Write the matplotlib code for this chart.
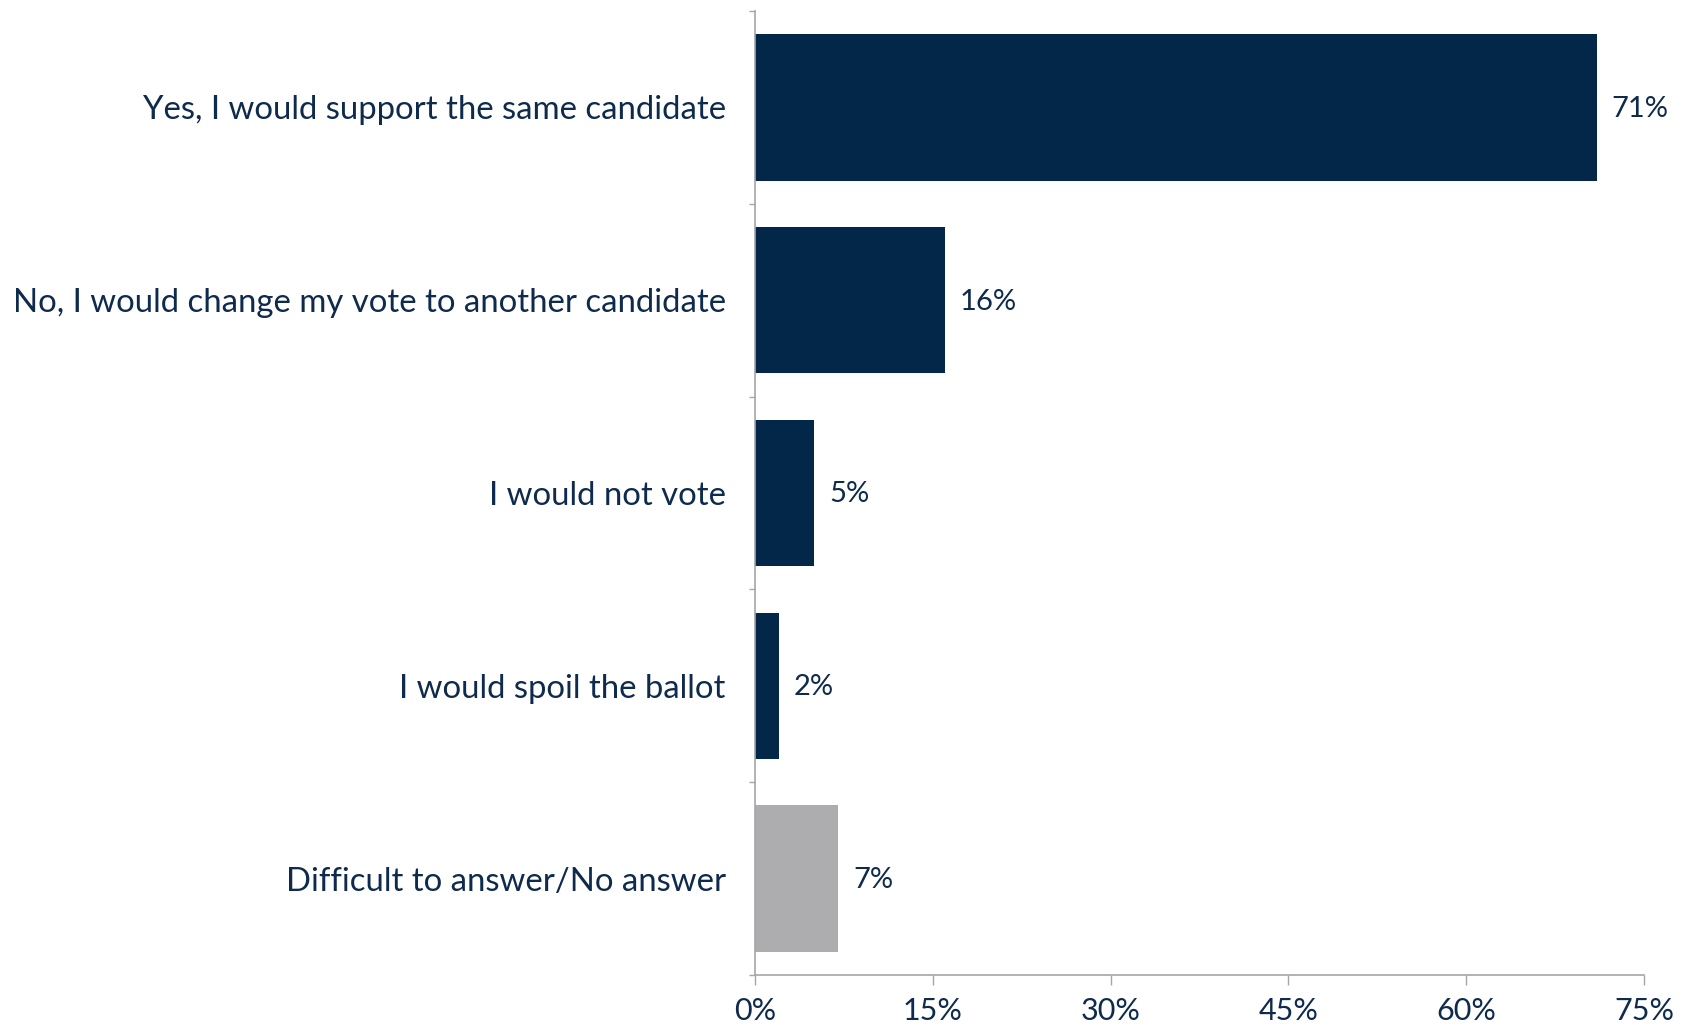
import matplotlib
matplotlib.use("Agg")
import matplotlib.pyplot as plt
from matplotlib.ticker import FixedLocator, FuncFormatter

categories = [
    "Yes, I would support the same candidate",
    "No, I would change my vote to another candidate",
    "I would not vote",
    "I would spoil the ballot",
    "Difficult to answer/No answer",
]
values = [71, 16, 5, 2, 7]
bar_colors = ["#022749", "#022749", "#022749", "#022749", "#ADADAF"]
x_ticks = [0, 15, 30, 45, 60, 75]

text_color = "#0E2A4C"
plt.rcParams['font.family'] = ['Lato', 'DejaVu Sans']

fig = plt.figure(figsize=(16.84, 10.29), dpi=100)
ax = fig.add_axes([0.4483, 0.0525, 0.9762 - 0.4483, 0.9893 - 0.0525])

n = len(categories)
ypos = list(range(n))
ax.barh(ypos, values, height=0.76, color=bar_colors)
ax.set_ylim(n - 0.5, -0.5)
ax.set_xlim(0, 75)

for y, v in zip(ypos, values):
    ax.annotate(f"{v}%", xy=(v, y), xytext=(11, -1), textcoords="offset points",
                va="center", ha="left", fontsize=21, color=text_color)

ax.set_yticks(ypos)
ax.set_yticklabels(categories, fontsize=23.7, color=text_color)
ax.tick_params(axis="y", which="major", length=0, pad=21)
ax.yaxis.set_minor_locator(FixedLocator([i - 0.5 for i in range(n + 1)]))
ax.tick_params(axis="y", which="minor", length=4.6, width=1.0, color="#A6A6A6", direction="out")

ax.set_xticks(x_ticks)
ax.xaxis.set_major_formatter(FuncFormatter(lambda x, p: f"{int(x)}%"))
ax.tick_params(axis="x", length=7.5, width=1.0, color="#A6A6A6", labelsize=22,
               labelcolor=text_color, pad=8, direction="out")

for s in ["top", "right"]:
    ax.spines[s].set_visible(False)
for s in ["left", "bottom"]:
    ax.spines[s].set_color("#A6A6A6")
    ax.spines[s].set_linewidth(1.2)

fig.savefig("out.png", dpi=100)
